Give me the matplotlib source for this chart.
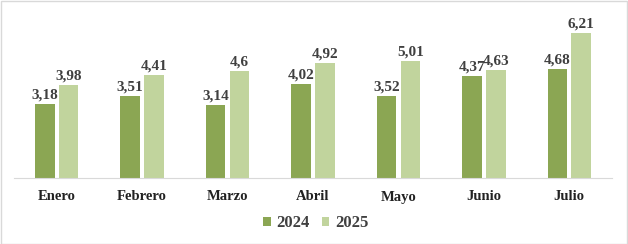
import matplotlib
matplotlib.use("Agg")
import matplotlib.pyplot as plt
import numpy as np
from matplotlib.patches import Rectangle

months = ["Enero", "Febrero", "Marzo", "Abril", "Mayo", "Junio", "Julio"]
vals_2024 = [3.18, 3.51, 3.14, 4.02, 3.52, 4.37, 4.68]
vals_2025 = [3.98, 4.41, 4.6, 4.92, 5.01, 4.63, 6.21]
series_names = ["2024", "2025"]

C24 = "#8BA653"
C25 = "#C1D49D"
TXT = "#404040"
FONT = ["Liberation Serif", "DejaVu Serif"]

fig = plt.figure(figsize=(6.28, 2.44), dpi=100)
ax = fig.add_axes([14 / 628, 1 - 178 / 244, 598 / 628, 163 / 244])

x = np.arange(len(months))
w = 0.23
off = 0.14
b1 = ax.bar(x - off, vals_2024, w, color=C24, label=series_names[0])
b2 = ax.bar(x + off, vals_2025, w, color=C25, label=series_names[1])

def fmt(v):
    return f"{v:g}".replace(".", ",")

# etiquetas de valor sobre cada barra
for bars, vals in ((b1, vals_2024), (b2, vals_2025)):
    for r, v in zip(bars, vals):
        ax.text(r.get_x() + r.get_width() / 2, v + 0.12, fmt(v), ha="center",
                va="bottom", fontsize=11, fontweight="bold", color=TXT, family=FONT)

ax.set_xlim(-0.5, len(months) - 0.5)
ax.set_ylim(0, 7)
ax.set_yticks([])
ax.set_xticks(x)
ax.set_xticklabels(months, fontsize=10.5, fontweight="bold", color="#222222", family=FONT)
ax.tick_params(axis="x", length=0, pad=9)
for s in ("top", "right", "left"):
    ax.spines[s].set_visible(False)
ax.spines["bottom"].set_color("#D9D9D9")
ax.set_facecolor("none")

leg = fig.legend(handles=[b1, b2], loc="center", bbox_to_anchor=(0.503, 1 - 223 / 244),
                 ncol=2, frameon=False, handlelength=0.45, handleheight=0.45,
                 handletextpad=0.35, columnspacing=0.7,
                 prop={"family": FONT, "weight": "bold", "size": 12})
for t in leg.get_texts():
    t.set_color(TXT)

fig.patches.append(Rectangle((0.001, 0.002), 0.997, 0.995, transform=fig.transFigure,
                             fill=False, edgecolor="#D9D9D9", linewidth=1))

fig.savefig("out.png", dpi=100, facecolor="white")
